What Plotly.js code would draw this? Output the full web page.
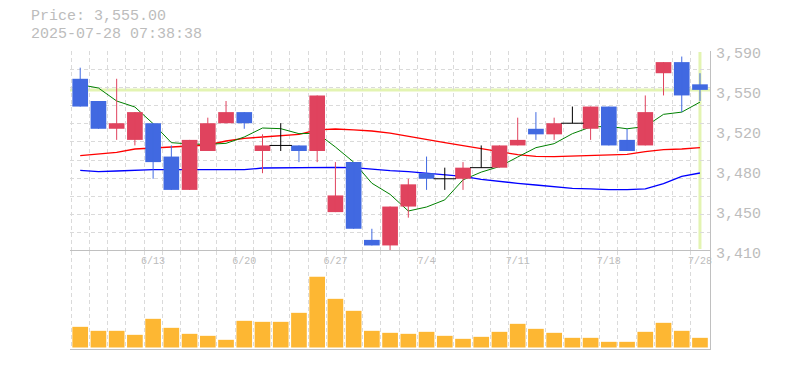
<!DOCTYPE html>
<html>
<head>
<meta charset="utf-8">
<script src="https://cdn.plot.ly/plotly-3.0.1.min.js"></script>
<style>html,body{margin:0;padding:0;background:#fff;}#chart{width:785px;height:370px;}</style>
</head>
<body>
<div id="chart"></div>
<script>
// ---- data ----
var dates = ['6/9','6/10','6/11','6/12','6/13','6/16','6/17','6/18','6/19','6/20',
  '6/23','6/24','6/25','6/26','6/27','6/30','7/1','7/2','7/3','7/4',
  '7/7','7/8','7/9','7/10','7/11','7/14','7/15','7/16','7/17','7/18',
  '7/22','7/23','7/24','7/25','7/28'];
var openP  = [3565,3545,3520,3510,3525,3495,3465,3500,3525,3535,3500,3505,3505,3500,3445,3490,3420,3415,3450,3480,3475,3475,3485,3485,3505,3520,3515,3525,3520,3540,3510,3505,3570,3580,3560];
var highP  = [3575,3545,3565,3535,3525,3505,3510,3530,3545,3535,3515,3525,3505,3550,3490,3490,3430,3450,3475,3495,3485,3490,3505,3505,3530,3535,3530,3540,3540,3540,3520,3550,3580,3585,3570];
var lowP   = [3540,3520,3510,3505,3475,3465,3465,3500,3525,3520,3480,3500,3490,3490,3445,3430,3415,3410,3440,3465,3465,3465,3485,3485,3505,3510,3510,3525,3510,3505,3500,3505,3550,3535,3545];
var closeP = [3540,3520,3525,3535,3490,3465,3510,3525,3535,3525,3505,3505,3500,3550,3460,3430,3415,3450,3470,3475,3475,3485,3485,3505,3510,3515,3525,3525,3540,3505,3500,3535,3580,3550,3555];
var maShort = [3559.7,3556.7,3545,3539.6,3524.6,3507.5,3506.3,3506,3506.9,3512.6,3520.7,3520.1,3515.6,3516,3503.6,3490,3471,3461,3446,3449.6,3456,3474,3481,3486,3494.6,3503,3506.6,3515.6,3521.6,3522.2,3520,3522,3533,3535,3544];
var maMid   = [3495.8,3497.6,3498.8,3501.8,3502.7,3503.6,3504.5,3505.4,3509,3511.4,3512.6,3514.1,3515,3519,3519.8,3519,3518,3516,3513,3510.5,3507.5,3504.8,3501.8,3499.4,3496.7,3495.2,3495,3495.5,3495.8,3496,3497,3499.4,3501.2,3501.8,3503];
var maLong  = [3482.6,3481.4,3482,3482.9,3483.2,3483.2,3483.2,3483.2,3483.2,3483.2,3484.7,3485,3485.3,3485.3,3485.3,3485,3483.5,3482.3,3481.4,3480.2,3479,3477.2,3474.5,3472.4,3470.9,3469.4,3467.6,3466.4,3466,3465.2,3465.2,3466,3470.6,3477.2,3480.2];
var volume  = [6200,5000,5000,3800,8600,5900,4100,3500,2300,8000,7700,7700,10400,21200,14600,11000,5000,4400,4100,4700,3500,2600,3200,4700,7100,5600,4400,2900,2900,1700,1700,4700,7400,5000,2900];
var xTickDates = ['6/13','6/20','6/27','7/4','7/11','7/18','7/28'];
var yTickVals = [3410,3446,3482,3518,3554,3590];
var yTickText = ['3,410','3,450','3,480','3,520','3,550','3,590'];
var stampText = '2025-07-28 07:38:38';

// ---- build ----
var idx = dates.map(function(d,i){return i;});
var UP='#e0435e', DOWN='#4169e1', DOJI='#000000';
function group(kind){
  var g={x:[],base:[],h:[],wx:[],wy:[],dx:[],dy:[]};
  idx.forEach(function(i){
    var o=openP[i], c=closeP[i];
    var k = c>o?'up':(c<o?'down':'doji');
    if(k!==kind) return;
    g.wx.push(i,i,null); g.wy.push(highP[i],lowP[i],null);
    if(k==='doji'){ g.dx.push(i); g.dy.push(o); }
    else { g.x.push(i); g.base.push(Math.min(o,c)); g.h.push(Math.abs(c-o)); }
  });
  return g;
}
var up=group('up'), dn=group('down'), dj=group('doji');
var traces=[];
function ma(y,color,w){return {type:'scatter',mode:'lines',x:idx,y:y,line:{color:color,width:w},xaxis:'x',yaxis:'y',hoverinfo:'skip'};}
traces.push(ma(maLong,'#0000ff',1.3));
traces.push(ma(maMid,'#ff0000',1.3));
traces.push(ma(maShort,'#008000',1));
// candles on an overlaid copy of the price axis so they sit above the averages
[[up,UP],[dn,DOWN]].forEach(function(p){
  traces.push({type:'bar',x:p[0].x,y:p[0].h,base:p[0].base,width:0.86,marker:{color:p[1],line:{width:0}},xaxis:'x',yaxis:'y3',hoverinfo:'skip'});
});
[[up,UP],[dn,DOWN],[dj,DOJI]].forEach(function(p){
  traces.push({type:'scatter',mode:'lines',x:p[0].wx,y:p[0].wy,line:{color:p[1],width:1},connectgaps:false,xaxis:'x',yaxis:'y3',hoverinfo:'skip'});
});
traces.push({type:'scatter',mode:'markers',x:dj.dx,y:dj.dy,marker:{symbol:'line-ew',size:16,color:DOJI,line:{color:DOJI,width:1}},xaxis:'x',yaxis:'y3',hoverinfo:'skip'});
traces.push({type:'bar',x:idx,y:volume,width:0.86,marker:{color:'#fdb733',line:{width:0}},xaxis:'x',yaxis:'y2',hoverinfo:'skip'});

var last = closeP[closeP.length-1];
var lastIdx = idx[idx.length-1];
var GRID='#dadada', LINE='#c0c0c0', TXT='#bcbcbc';
var F='Liberation Mono, DejaVu Sans Mono, monospace';
var tickIdx = xTickDates.map(function(d){return dates.indexOf(d);});
var priceRange=[3410,3590];

var layout={
  width:785,height:370,
  margin:{l:70,r:75,t:51,b:21,pad:0},
  paper_bgcolor:'#ffffff',plot_bgcolor:'#ffffff',
  showlegend:false,barmode:'overlay',hovermode:false,
  font:{family:F,color:TXT},
  xaxis:{range:[-0.56,34.55],anchor:'y2',side:'top',tickmode:'array',tickvals:tickIdx,ticktext:xTickDates,
    ticklabelposition:'inside',ticklabeloverflow:'allow',ticklabelstandoff:5,ticks:'',showgrid:false,zeroline:false,
    showline:true,linecolor:LINE,linewidth:1,mirror:true,tickfont:{family:F,size:10,color:TXT},
    minor:{tickmode:'linear',tick0:-0.5,dtick:1,showgrid:true,gridcolor:GRID,griddash:'4px,3px',gridwidth:1,ticks:''}},
  yaxis:{domain:[0.32886,1],range:priceRange,side:'right',anchor:'x',tickmode:'array',tickvals:yTickVals,ticktext:yTickText,
    showgrid:false,zeroline:false,showline:true,linecolor:LINE,linewidth:1,ticks:'',ticklabelstandoff:2,ticklabelshift:2,
    tickfont:{family:F,size:15,color:TXT},
    minor:{tickmode:'linear',tick0:3410,dtick:180/11,showgrid:true,gridcolor:GRID,griddash:'4px,3px',gridwidth:1,ticks:''}},
  yaxis3:{overlaying:'y',range:priceRange,side:'right',anchor:'x',showticklabels:false,showgrid:false,zeroline:false,showline:false,ticks:''},
  yaxis2:{domain:[0,0.32886],range:[-450,28950],side:'right',anchor:'x',showticklabels:false,showgrid:false,zeroline:false,
    showline:true,linecolor:LINE,linewidth:1,ticks:''},
  shapes:[
    {type:'line',layer:'below',xref:'x domain',x0:0,x1:1,yref:'y',y0:last,y1:last,line:{color:'#e3f4b2',width:3}},
    {type:'line',layer:'below',xref:'x',x0:lastIdx,x1:lastIdx,yref:'y domain',y0:0.01,y1:0.995,line:{color:'#e3f4b2',width:3}}
  ],
  annotations:[
    {xref:'paper',yref:'paper',x:-0.0641,y:1.1141,xanchor:'left',yanchor:'middle',showarrow:false,
     text:'Price: '+last.toLocaleString('en-US',{minimumFractionDigits:2,maximumFractionDigits:2}),font:{family:F,size:15,color:TXT}},
    {xref:'paper',yref:'paper',x:-0.0641,y:1.0554,xanchor:'left',yanchor:'middle',showarrow:false,
     text:stampText,font:{family:F,size:15,color:TXT}}
  ]
};
Plotly.newPlot('chart',traces,layout,{staticPlot:true,displayModeBar:false});
</script>
</body>
</html>
